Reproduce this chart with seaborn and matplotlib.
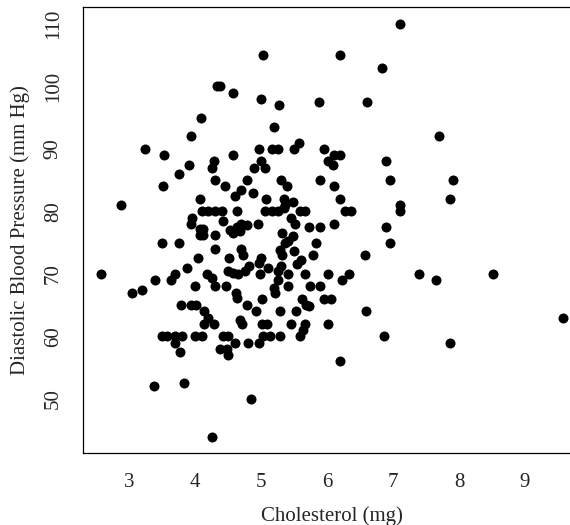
import matplotlib
matplotlib.use("Agg")
import matplotlib.pyplot as plt
import seaborn as sns
import pandas as pd

# cholesterol (mg) and diastolic blood pressure (mm Hg)
chol = [7.10, 5.03, 6.20, 6.84, 4.33, 4.38, 4.57, 5.00, 5.88, 6.60, 5.27, 4.09, 5.20, 3.93, 7.70, 5.58, 3.24, 4.97, 5.16, 5.25, 5.50, 5.95,
        3.53, 4.58, 6.10, 6.20, 4.28, 5.00, 6.01, 6.89, 3.90, 4.26, 4.89, 5.06, 6.09, 3.75, 4.30, 4.78, 5.30, 5.89, 6.95, 7.91,
        3.52, 4.46, 5.40, 6.10, 4.69, 4.87, 4.60, 4.08, 5.07, 5.35, 6.19, 7.86, 2.88, 5.36, 5.49, 7.10, 4.10, 4.20, 4.30, 4.40, 4.63, 5.06, 5.16, 5.26, 5.34, 5.59, 5.66, 6.27, 6.37, 7.10,
        3.96, 5.46, 3.94, 4.42, 4.69, 4.79, 4.95, 5.52, 6.11, 5.73, 5.89, 6.89, 4.07, 4.12, 4.07, 4.12, 4.53, 4.58, 4.63, 4.68, 4.30, 5.31, 5.49, 5.41, 5.36, 3.50, 3.76, 5.83, 6.96,
        4.30, 4.69, 5.29, 5.50, 4.72, 5.31, 5.79, 6.58, 4.05, 4.52, 5.00, 4.97, 5.61, 5.55, 3.87, 4.81, 5.11, 5.30, 2.58, 3.70, 4.18, 4.50, 4.58, 4.65, 4.76, 4.98, 5.26, 5.41, 5.67, 6.01, 6.34, 7.39, 8.52,
        3.39, 3.64, 4.25, 5.26, 6.22, 7.65, 4.00, 4.30, 4.47, 5.41, 5.74, 5.89, 3.20, 3.05, 5.19, 5.21, 4.62, 4.63, 5.02, 5.62, 5.96, 6.06, 3.79, 3.94, 4.01, 4.78, 5.68, 5.73,
        4.14, 4.93, 5.28, 5.53, 6.59, 4.20, 9.57, 4.13, 4.29, 4.68, 4.71, 5.01, 5.09, 5.46, 5.67, 6.02, 5.63, 3.50, 3.57, 3.70, 3.80, 4.00, 4.10, 4.43, 4.50, 5.03, 5.14, 5.29, 5.59, 6.86,
        3.70, 4.60, 4.80, 4.97, 7.86, 4.37, 4.48, 4.50, 3.77, 6.20, 3.83, 3.38, 4.84, 4.25]
dbp = [110, 105, 105, 103, 100, 100, 99, 98, 97.5, 97.5, 97, 95, 93.5, 92, 92, 91, 90, 90, 90, 90, 90, 90,
       89, 89, 89, 89, 88, 88, 88, 88, 87.5, 87, 87, 87, 87.4, 86, 85, 85, 85, 85, 85, 85,
       84, 84, 84, 84, 83.5, 83, 82.5, 82, 82, 82, 82, 82, 81, 81, 81.5, 81, 80, 80, 80, 80, 80, 80, 80, 80, 80.5, 80, 80, 80, 80, 80,
       79, 79, 78, 78.4, 78, 77.8, 78, 78, 78, 77.5, 77.5, 77.5, 77.2, 77.2, 76.2, 76.2, 77, 76.5, 77.5, 76.8, 76.2, 76.5, 76, 75.2, 74.9, 75, 75, 75, 75,
       74, 74, 73.8, 73.6, 73, 73, 73, 73, 72.5, 72.5, 72.5, 71.8, 72.2, 71.6, 71, 71.2, 71, 71.2, 70, 70, 70, 70.4, 70.2, 70, 70.4, 70, 70.4, 70, 70, 70, 70, 70, 70,
       69, 69, 69.3, 69, 69, 69, 68, 68, 68, 68, 68, 68, 67.5, 67, 67.7, 66.9, 67, 66.1, 66, 66, 66, 66, 65, 65, 65, 65, 65, 64.8,
       64, 64, 64, 64, 64, 63, 63, 62, 62, 62.6, 62, 62, 62, 62, 62, 62, 61, 60, 60, 60, 60, 60, 60, 60, 60, 60, 60, 60, 60, 60,
       59, 59, 59, 59, 59, 58, 58, 57, 57.5, 56, 52.5, 52, 50, 44]

x_ticks = [3, 4, 5, 6, 7, 8, 9]
y_ticks = [50, 60, 70, 80, 90, 100, 110]

df = pd.DataFrame({"chol": chol, "dbp": dbp})

sns.set_style("white")
plt.rcParams['font.family'] = ['Liberation Serif', 'DejaVu Serif']

fig = plt.figure(figsize=(5.7, 5.25), dpi=100)
# right edge of the box runs past the picture, as in the original
ax = fig.add_axes([0.1456, 0.1371, 0.8737, 0.849])

sns.scatterplot(data=df, x="chol", y="dbp", color="black", s=52, linewidth=0, ax=ax)

ax.set_xlim(2.30, 9.85)
ax.set_ylim(41.36, 112.64)
ax.set_xticks(x_ticks)
ax.set_yticks(y_ticks)
ax.tick_params(axis='both', length=6.5, width=0.8, color='#444444', pad=8, labelsize=15)
for lab in ax.get_yticklabels():
    lab.set_rotation(90)
    lab.set_va('center')

for sp in ax.spines.values():
    sp.set_color('black')
    sp.set_linewidth(0.9)

ax.set_xlabel("Cholesterol (mg)", fontsize=15, labelpad=10)
ax.set_ylabel("Diastolic Blood Pressure (mm Hg)", fontsize=15, labelpad=10)

fig.savefig("out.png", dpi=100)
